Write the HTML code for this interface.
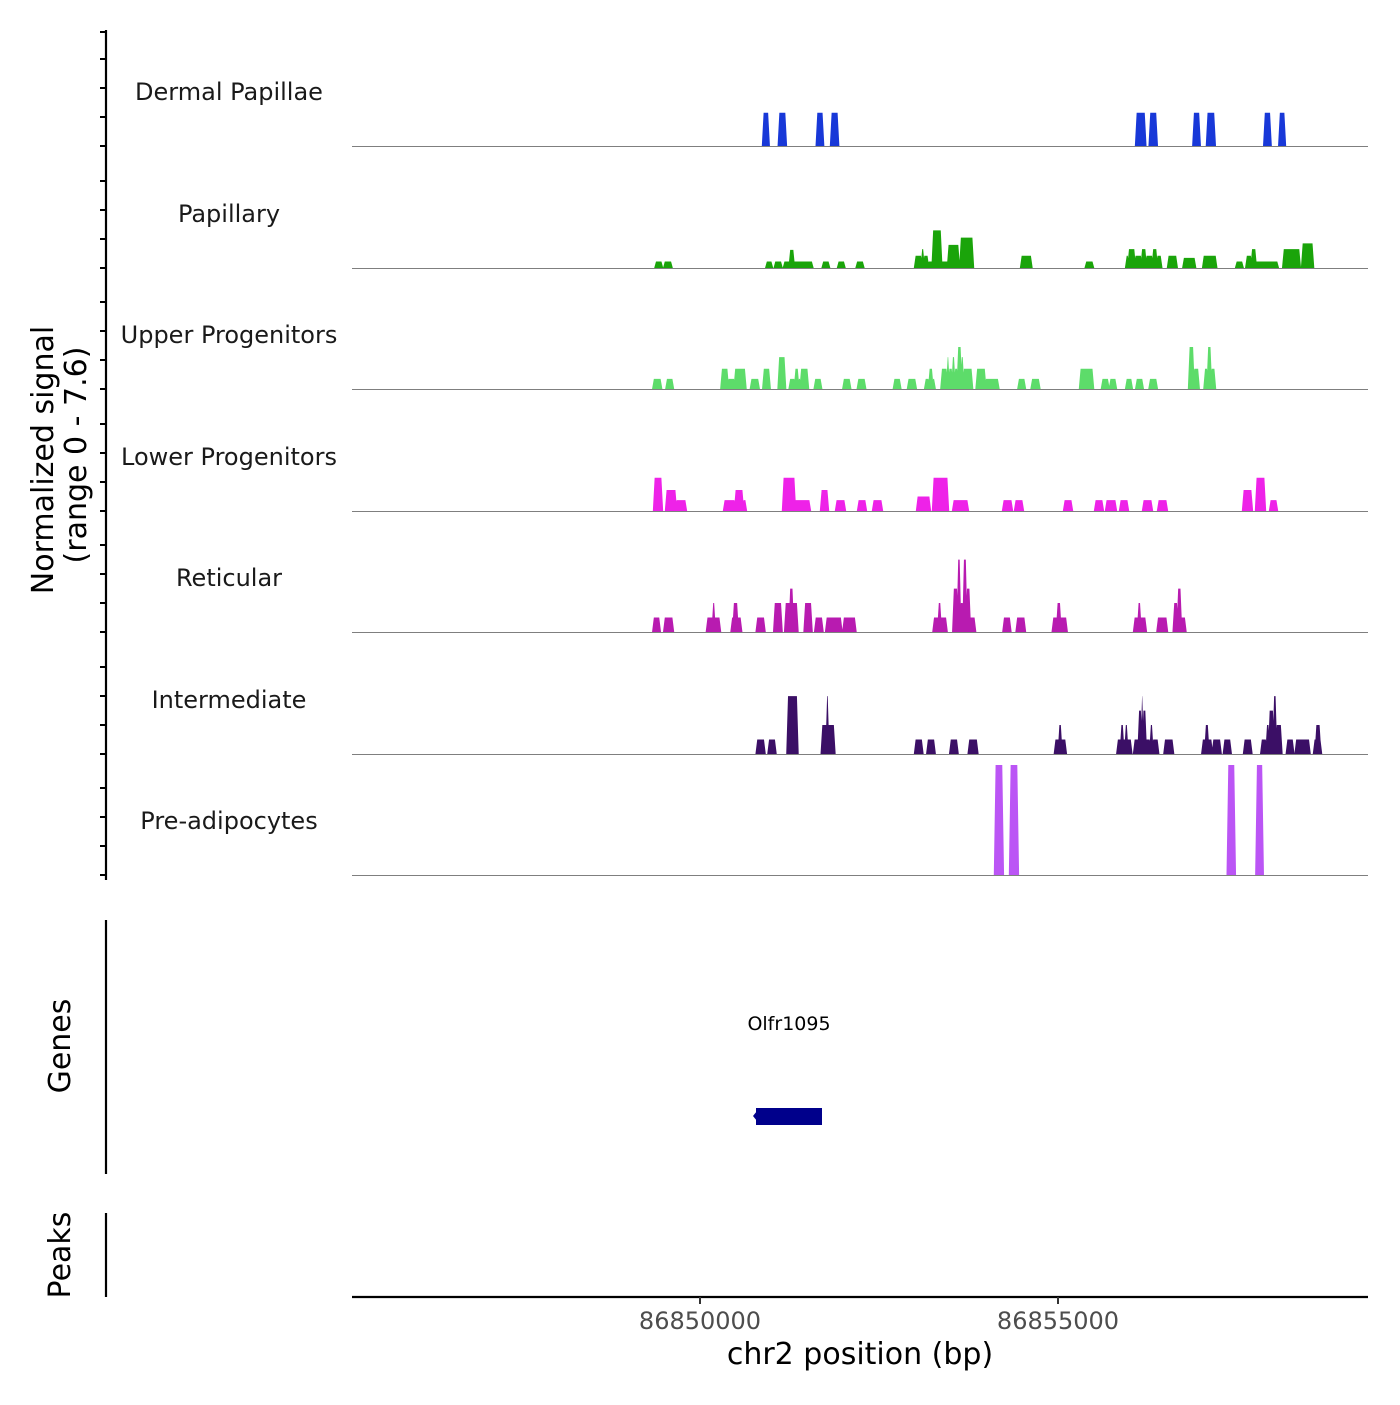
<!DOCTYPE html>
<html><head><meta charset="utf-8"><style>
body{margin:0;background:#fff;}
svg text{font-family:"DejaVu Sans","Liberation Sans",sans-serif;}
</style></head><body>
<svg id="chart" width="1400" height="1400" viewBox="0 0 1400 1400" xmlns="http://www.w3.org/2000/svg">
<rect width="1400" height="1400" fill="#fff"/>
<g id="tracks"></g>
<g id="axes"></g>
</svg>
<script>
// Data: segments [startKb, endKb, value] with kb offset from 86,850,000 bp
const trackNames = ["Dermal Papillae","Papillary","Upper Progenitors","Lower Progenitors","Reticular","Intermediate","Pre-adipocytes"];
const trackColors = ["#1838d8","#1aa40a","#5ddc6a","#ee22e8","#b81bb0","#3b0f66","#bb55f5"];
const dermalPapillae = [[0.88,0.96,2.3],[1.10,1.20,2.3],[1.63,1.72,2.3],[1.83,1.93,2.3],[6.09,6.22,2.3],[6.28,6.38,2.3],[6.89,6.98,2.3],[7.08,7.19,2.3],[7.88,7.97,2.3],[8.09,8.17,2.3]];
const papillary = [[-0.623,-0.530,.45],[-0.500,-0.396,.45],[0.925,1.006,.45],[1.043,1.140,.45],[1.171,1.251,.45],[1.251,1.312,1.25],[1.312,1.571,.45],[1.712,1.804,.45],[1.927,2.019,.45],[2.186,2.283,.45],
[3.003,3.095,.85],[3.095,3.125,1.3],[3.125,3.186,.85],[3.186,3.248,.45],[3.248,3.371,2.6],[3.371,3.463,.45],[3.463,3.616,1.6],[3.635,3.813,2.1],
[4.484,4.630,.85],[5.386,5.490,.45],[5.951,5.983,.85],[5.983,6.074,1.3],[6.074,6.166,.85],[6.166,6.228,1.3],[6.228,6.321,.85],[6.321,6.381,1.3],[6.381,6.443,.85],
[6.536,6.659,.85],[6.750,6.916,.7],[7.027,7.211,.85],[7.487,7.580,.45],[7.629,7.702,.85],[7.702,7.764,1.3],[7.764,8.071,.45],[8.145,8.378,1.3],[8.409,8.563,1.7]];
const upperProgenitors = [[-0.653,-0.542,.7],[-0.470,-0.377,.7],[0.298,0.391,1.4],[0.391,0.483,.7],[0.483,0.636,1.4],[0.710,0.821,.7],[0.883,0.974,1.4],[1.097,1.189,2.2],[1.251,1.325,.7],[1.325,1.374,1.4],[1.374,1.404,.7],[1.404,1.509,1.4],
[1.601,1.693,.7],[2.001,2.099,.7],[2.203,2.308,.7],[2.707,2.799,.7],[2.904,3.015,.7],[3.144,3.199,.7],[3.199,3.248,1.4],[3.248,3.278,.7],
[3.371,3.451,1.4],[3.451,3.475,2.2],[3.475,3.524,1.4],[3.524,3.556,2.2],[3.556,3.598,1.4],[3.598,3.648,2.9],[3.648,3.678,2.2],[3.678,3.801,1.4],
[3.862,3.986,1.4],[3.986,4.169,.7],[4.446,4.539,.7],[4.630,4.741,.7],[5.307,5.490,1.4],[5.613,5.706,.7],[5.724,5.810,.7],[5.951,6.032,.7],[6.092,6.185,.7],[6.277,6.381,.7],
[6.830,6.895,2.9],[6.895,6.966,1.4],[7.045,7.089,1.4],[7.089,7.138,2.9],[7.138,7.193,1.4]];
const lowerProgenitors = [[-0.642,-0.531,2.3],[-0.475,-0.335,1.45],[-0.335,-0.196,.75],[0.335,0.489,.75],[0.489,0.601,1.45],[0.601,0.642,.75],[1.159,1.327,2.3],[1.327,1.536,.75],
[1.690,1.788,1.45],[1.899,2.025,.75],[2.207,2.318,.75],[2.416,2.542,.75],[3.031,3.212,1.0],[3.254,3.464,2.3],[3.534,3.743,.75],[4.232,4.358,.75],[4.399,4.511,.75],[5.084,5.196,.75],[5.517,5.628,.75],[5.670,5.810,.75],[5.866,5.978,.75],[6.187,6.313,.75],[6.397,6.522,.75],[7.584,7.709,1.45],[7.765,7.891,2.3],[7.961,8.059,.75]];
const reticular = [[-0.653,-0.561,1],[-0.500,-0.377,1],[0.096,0.280,1],[0.176,0.206,2],[0.440,0.576,1],[0.465,0.527,2],[0.791,0.902,1],[1.036,1.140,2],[1.189,1.362,2],[1.251,1.300,3],[1.460,1.559,2],[1.608,1.712,1],[1.761,1.976,1],[2.001,2.172,1],
[3.260,3.445,1],[3.327,3.364,2],[3.537,3.598,3],[3.598,3.635,5],[3.635,3.678,2],[3.678,3.721,5],[3.721,3.771,3],[3.771,3.843,1],
[4.237,4.336,1],[4.421,4.539,1],[4.926,5.122,1],[4.986,5.036,2],[6.062,6.228,1],[6.117,6.154,2],[6.388,6.523,1],[6.615,6.670,2],[6.670,6.719,3],[6.719,6.781,1]];
const intermediate = [[0.791,0.902,1],[0.956,1.055,1],[1.221,1.362,4],[1.700,1.878,2],[1.767,1.792,4],[3.003,3.107,1],[3.174,3.278,1],[3.494,3.598,1],[3.752,3.875,1],[4.956,5.110,1],[5.011,5.048,2],
[5.828,6.025,1],[5.877,5.914,2],[5.939,5.970,2],[6.062,6.124,1],[6.124,6.166,3],[6.166,6.185,4],[6.185,6.228,3],[6.228,6.289,1],[6.289,6.321,2],[6.321,6.400,1],
[6.486,6.608,1],[7.015,7.150,1],[7.057,7.101,2],[7.161,7.272,1],[7.316,7.413,1],[7.598,7.702,1],[7.838,7.911,1],[7.911,7.948,2],[7.948,8.010,3],[8.010,8.047,4],[8.047,8.121,2],[8.195,8.287,1],[8.318,8.514,1],[8.575,8.674,1],[8.600,8.662,2]];
const preAdipocytes = [[4.12,4.23,7.6],[4.33,4.44,7.6],[7.37,7.47,7.6],[7.77,7.86,7.6]];
const xTicks = [86850000, 86855000];
const xTickLabels = ["86850000","86855000"];
const yMax = 7.6;

const allTracks=[dermalPapillae,papillary,upperProgenitors,lowerProgenitors,reticular,intermediate,preAdipocytes];
const NS="http://www.w3.org/2000/svg";
const PX0=352,PX1=1368;
function xScale(bp){return 700+(bp-86850000)*358/5000;}
function kbX(kb){return xScale(86850000+kb*1000);}
const baselines=[146,268,389,511,632,754,875];
function yScale(v,base){return base - v/yMax*110;}
function mk(tag,attrs,parent){const e=document.createElementNS(NS,tag);for(const k in attrs)e.setAttribute(k,attrs[k]);parent.appendChild(e);return e;}
const gT=document.getElementById('tracks'), gA=document.getElementById('axes');

allTracks.forEach((segs,i)=>{
  const base=baselines[i];
  const g=mk('g',{},gT);
  
  
  let d='';
  segs.forEach(s=>{
    const x0=kbX(s[0]),x1=kbX(s[1]),y=yScale(s[2],base);
    d+=`M${x0-1.2},${base}L${x0+0.6},${y}L${x1-0.6},${y}L${x1+1.2},${base}Z`;
  });
  const p=mk('path',{d:d,fill:trackColors[i]},g);
  
  
  const bl=mk('line',{x1:PX0,x2:PX1,y1:base+0.5,y2:base+0.5,stroke:'#7f7f7f','stroke-width':1},g);
  
  
  const t=mk('text',{x:229,y:base-46,'text-anchor':'middle','font-size':24,fill:'#1a1a1a'},g);
  t.textContent=trackNames[i];
  
  
});

const la=mk('line',{x1:106,x2:106,y1:30,y2:880,stroke:'#000','stroke-width':2.2},gA);


baselines.forEach(b=>{
  [0,29,58,87].forEach(o=>{
    const y=b-o;
    const tk=mk('line',{x1:100,x2:106,y1:y,y2:y,stroke:'#000','stroke-width':2},gA);
    
    
  });
});
const tk0=mk('line',{x1:100,x2:106,y1:32,y2:32,stroke:'#000','stroke-width':2},gA);


const yt=mk('text',{x:0,y:0,'text-anchor':'middle','font-size':30,fill:'#000',transform:'translate(53,460) rotate(-90)'},gA);
yt.textContent='Normalized signal';


const yt2=mk('text',{x:0,y:0,'text-anchor':'middle','font-size':30,fill:'#000',transform:'translate(86,455) rotate(-90)'},gA);
yt2.textContent='(range 0 - 7.6)';



const ga=mk('line',{x1:106,x2:106,y1:920,y2:1174,stroke:'#000','stroke-width':2.2},gA);


const gt=mk('text',{x:0,y:0,'text-anchor':'middle','font-size':30,fill:'#000',transform:'translate(70,1046) rotate(-90)'},gA);
gt.textContent='Genes';


const gr=mk('rect',{x:756,y:1108,width:66,height:17,fill:'#00008b'},gA);


const garr=mk('path',{d:'M757,1111L753,1116L757,1121Z',fill:'#00008b'},gA);


const gl=mk('text',{x:789,y:1030,'text-anchor':'middle','font-size':19,fill:'#000'},gA);
gl.textContent='Olfr1095';



const pa=mk('line',{x1:106,x2:106,y1:1213,y2:1297,stroke:'#000','stroke-width':2.2},gA);


const pt=mk('text',{x:0,y:0,'text-anchor':'middle','font-size':30,fill:'#000',transform:'translate(70,1255) rotate(-90)'},gA);
pt.textContent='Peaks';



const xa=mk('line',{x1:PX0,x2:PX1,y1:1297,y2:1297,stroke:'#000','stroke-width':2.2},gA);


xTicks.forEach((v,i)=>{
  const x=xScale(v);
  const t=mk('line',{x1:x,x2:x,y1:1297,y2:1304,stroke:'#333','stroke-width':2},gA);
  
  
  const l=mk('text',{x:x,y:1329,'text-anchor':'middle','font-size':24,fill:'#4d4d4d'},gA);
  l.textContent=xTickLabels[i];
  
  
});
const xt=mk('text',{x:860,y:1364,'text-anchor':'middle','font-size':30,fill:'#000'},gA);
xt.textContent='chr2 position (bp)';


</script>
</body></html>
